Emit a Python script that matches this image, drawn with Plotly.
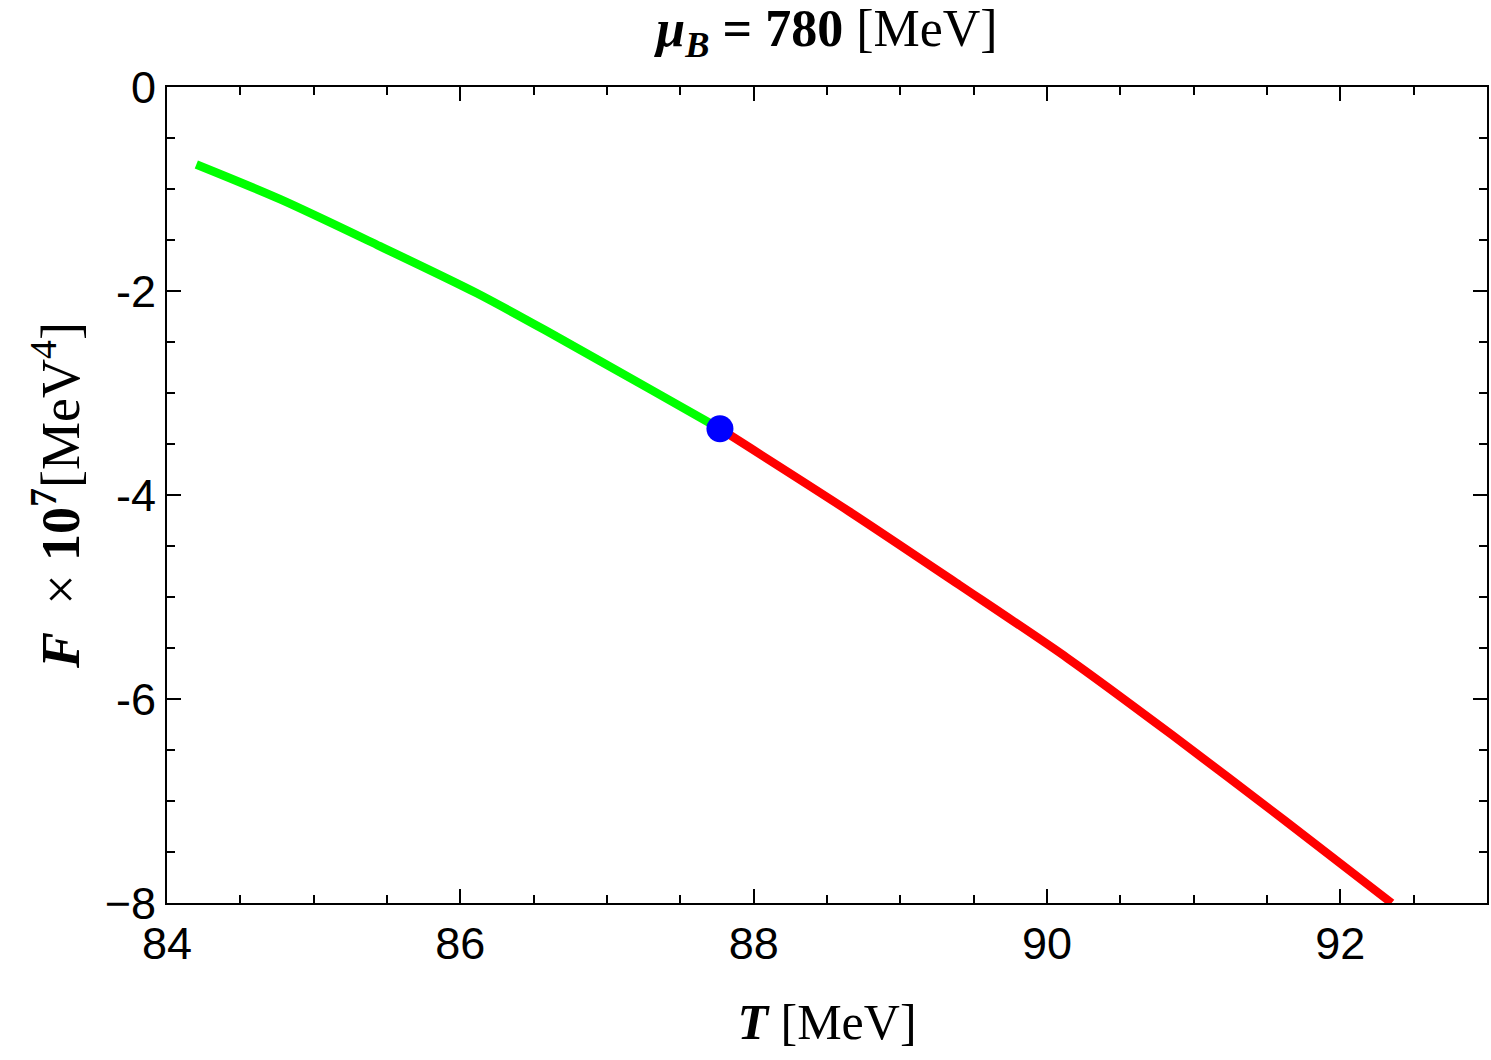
import plotly.graph_objects as go

# Data
T_green = [84.20, 84.77, 85.45, 86.11, 86.61, 87.29, 87.77]
F_green = [-0.76, -1.10, -1.56, -2.02, -2.41, -2.96, -3.35]
T_red = [87.77, 88.65, 89.40, 90.14, 90.85, 91.62, 92.35]
F_red = [-3.35, -4.16, -4.88, -5.60, -6.35, -7.19, -8.0]
T_point = [87.77]
F_point = [-3.35]

x_ticks = [84, 86, 88, 90, 92]
x_ticktext = ["84", "86", "88", "90", "92"]
y_ticks = [0, -2, -4, -6, -8]
y_ticktext = ["0", "-2", "-4", "-6", "\u22128"]

fig = go.Figure()
fig.add_trace(go.Scatter(x=T_green, y=F_green, mode="lines",
                         line=dict(color="#00ff00", width=8.5, shape="spline", smoothing=0.8),
                         showlegend=False))
fig.add_trace(go.Scatter(x=T_red, y=F_red, mode="lines",
                         line=dict(color="#ff0000", width=8.5, shape="spline", smoothing=0.8),
                         showlegend=False))
fig.add_trace(go.Scatter(x=T_point, y=F_point, mode="markers",
                         marker=dict(color="#0000ff", size=27),
                         showlegend=False))

serif = "Liberation Serif, DejaVu Serif, serif"
sans = "Liberation Sans, Arial, sans-serif"

fig.update_layout(
    width=1491, height=1060,
    paper_bgcolor="white", plot_bgcolor="white",
    margin=dict(l=167, r=2, t=87, b=157),
    title=dict(text="<b><i>μ</i><sub><i>B</i></sub> = 780</b> [MeV]",
               x=0.5, xanchor="center", xref="paper",
               y=1 - 28 / 1060, yanchor="middle",
               font=dict(family=serif, size=52, color="black")),
    xaxis=dict(range=[84, 93], tickvals=x_ticks, ticktext=x_ticktext,
               showgrid=False, zeroline=False,
               showline=True, linecolor="black", linewidth=2, mirror="ticks",
               ticks="inside", ticklen=14, tickwidth=2, tickcolor="black",
               minor=dict(dtick=0.5, ticks="inside", ticklen=8, tickwidth=1.5, tickcolor="black"),
               tickfont=dict(family=sans, size=45, color="black"),
               title=dict(text="<b><i>T</i></b> [MeV]", standoff=36,
                          font=dict(family=serif, size=50, color="black"))),
    yaxis=dict(range=[-8, 0], tickvals=y_ticks, ticktext=y_ticktext,
               showgrid=False, zeroline=False,
               showline=True, linecolor="black", linewidth=2, mirror="ticks",
               ticks="inside", ticklen=14, tickwidth=2, tickcolor="black",
               minor=dict(dtick=0.5, ticks="inside", ticklen=8, tickwidth=1.5, tickcolor="black"),
               tickfont=dict(family=sans, size=45, color="black"),
               title=dict(text="<b><i>F</i></b>  × <b>10<sup>7</sup></b>[MeV<sup>4</sup>]", standoff=8,
                          font=dict(family=serif, size=54, color="black"))),
)

fig.write_html("out.html")
